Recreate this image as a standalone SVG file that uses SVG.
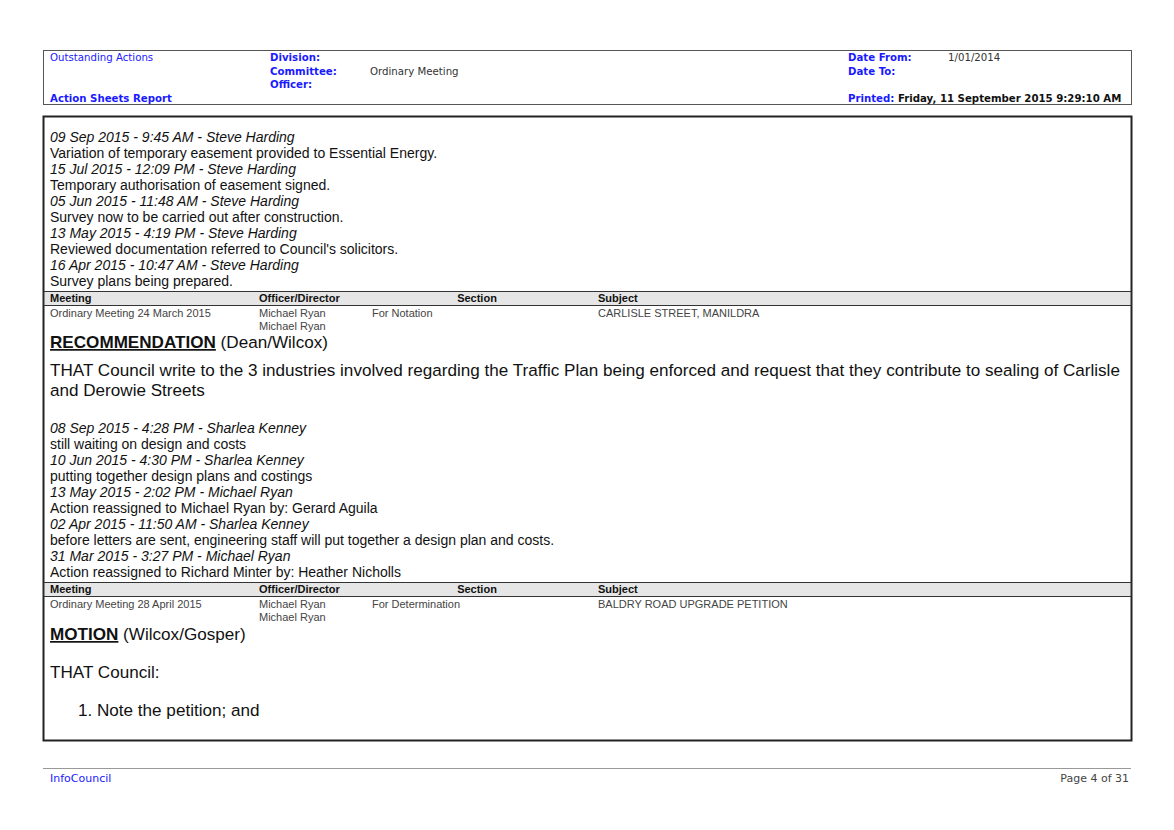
<svg xmlns="http://www.w3.org/2000/svg" width="1174" height="830" viewBox="0 0 1174 830">
<style>
.h{font-family:"DejaVu Sans",Verdana,sans-serif;font-size:10.2px;fill:#1a1aff}
.hb{font-family:"DejaVu Sans",Verdana,sans-serif;font-size:10.2px;font-weight:bold;fill:#1a1aff}
.hk{font-family:"DejaVu Sans",Verdana,sans-serif;font-size:10.2px;fill:#333}
.hkb{font-family:"DejaVu Sans",Verdana,sans-serif;font-size:10.2px;font-weight:bold;fill:#111}
.t{font-family:"Liberation Sans",Arial,sans-serif;font-size:14px;fill:#111}
.i{font-family:"Liberation Sans",Arial,sans-serif;font-size:14px;font-style:italic;fill:#111}
.th{font-family:"Liberation Sans",Arial,sans-serif;font-size:11px;font-weight:bold;fill:#111}
.td{font-family:"Liberation Sans",Arial,sans-serif;font-size:11px;fill:#444}
.big{font-family:"Liberation Sans",Arial,sans-serif;font-size:17.1px;fill:#111}
.bb{font-family:"Liberation Sans",Arial,sans-serif;font-size:17.1px;font-weight:bold;text-decoration:underline;fill:#111}
.f{font-family:"DejaVu Sans",Verdana,sans-serif;font-size:11px}
</style>
<rect width="1174" height="830" fill="#fff"/>
<rect x="43.5" y="50.5" width="1088" height="54" fill="none" stroke="#555" stroke-width="1"/>
<text class="h" x="50" y="61">Outstanding Actions</text>
<text class="hb" x="270" y="61">Division:</text>
<text class="hb" x="270" y="75">Committee<tspan class="h">:</tspan></text>
<text class="hk" x="370" y="75">Ordinary Meeting</text>
<text class="hb" x="270" y="88">Officer:</text>
<text class="hb" x="50" y="102">Action Sheets Report</text>
<text class="hb" x="848" y="61">Date From:</text>
<text class="hk" x="948" y="61">1/01/2014</text>
<text class="hb" x="848" y="75">Date To:</text>
<text class="hb" x="848" y="102">Printed: <tspan class="hkb">Friday, 11 September 2015  9:29:10 AM</tspan></text>
<rect x="43.5" y="116.5" width="1088" height="624" fill="none" stroke="#222" stroke-width="2"/>
<text class="i" x="50" y="142">09 Sep 2015 - 9:45 AM - Steve Harding</text>
<text class="t" x="50" y="158">Variation of temporary easement provided to Essential Energy.</text>
<text class="i" x="50" y="174">15 Jul 2015 - 12:09 PM - Steve Harding</text>
<text class="t" x="50" y="190">Temporary authorisation of easement signed.</text>
<text class="i" x="50" y="206">05 Jun 2015 - 11:48 AM - Steve Harding</text>
<text class="t" x="50" y="222">Survey now to be carried out after construction.</text>
<text class="i" x="50" y="238">13 May 2015 - 4:19 PM - Steve Harding</text>
<text class="t" x="50" y="254">Reviewed documentation referred to Council's solicitors.</text>
<text class="i" x="50" y="270">16 Apr 2015 - 10:47 AM - Steve Harding</text>
<text class="t" x="50" y="286">Survey plans being prepared.</text>
<g id="table1">
<rect x="44" y="291.5" width="1087" height="14" fill="#e6e6e6" stroke="#333" stroke-width="1"/>
<text class="th" x="50" y="302">Meeting</text>
<text class="th" x="259" y="302">Officer/Director</text>
<text class="th" x="477" y="302" text-anchor="middle">Section</text>
<text class="th" x="598" y="302">Subject</text>
<text class="td" x="50" y="317">Ordinary Meeting 24 March 2015</text>
<text class="td" x="259" y="317">Michael Ryan</text>
<text class="td" x="259" y="330">Michael Ryan</text>
<text class="td" x="372" y="317">For Notation</text>
<text class="td" x="598" y="317">CARLISLE STREET, MANILDRA</text>
</g>
<text x="50" y="348"><tspan class="bb">RECOMMENDATION</tspan><tspan class="big"> (Dean/Wilcox)</tspan></text>
<text class="big" x="50" y="376">THAT Council write to the 3 industries involved regarding the Traffic Plan being enforced and request that they contribute to sealing of Carlisle</text>
<text class="big" x="50" y="396">and Derowie Streets</text>
<text class="i" x="50" y="433">08 Sep 2015 - 4:28 PM - Sharlea Kenney</text>
<text class="t" x="50" y="449">still waiting on design and costs</text>
<text class="i" x="50" y="465">10 Jun 2015 - 4:30 PM - Sharlea Kenney</text>
<text class="t" x="50" y="481">putting together design plans and costings</text>
<text class="i" x="50" y="497">13 May 2015 - 2:02 PM - Michael Ryan</text>
<text class="t" x="50" y="513">Action reassigned to Michael Ryan by: Gerard Aguila</text>
<text class="i" x="50" y="529">02 Apr 2015 - 11:50 AM - Sharlea Kenney</text>
<text class="t" x="50" y="545">before letters are sent, engineering staff will put together a design plan and costs.</text>
<text class="i" x="50" y="561">31 Mar 2015 - 3:27 PM - Michael Ryan</text>
<text class="t" x="50" y="577">Action reassigned to Richard Minter by: Heather Nicholls</text>
<g id="table2">
<rect x="44" y="582.5" width="1087" height="14" fill="#e6e6e6" stroke="#333" stroke-width="1"/>
<text class="th" x="50" y="593">Meeting</text>
<text class="th" x="259" y="593">Officer/Director</text>
<text class="th" x="477" y="593" text-anchor="middle">Section</text>
<text class="th" x="598" y="593">Subject</text>
<text class="td" x="50" y="608">Ordinary Meeting 28 April 2015</text>
<text class="td" x="259" y="608">Michael Ryan</text>
<text class="td" x="259" y="621">Michael Ryan</text>
<text class="td" x="372" y="608">For Determination</text>
<text class="td" x="598" y="608">BALDRY ROAD UPGRADE PETITION</text>
</g>
<text x="50" y="640"><tspan class="bb">MOTION</tspan><tspan class="big"> (Wilcox/Gosper)</tspan></text>
<text class="big" x="50" y="678">THAT Council:</text>
<text class="big" x="78" y="716">1.  Note the petition; and</text>
<line x1="43" y1="768.5" x2="1131" y2="768.5" stroke="#999" stroke-width="1"/>
<text class="f" x="50" y="782" fill="#1a1aff">InfoCouncil</text>
<text class="f" x="1129" y="782" fill="#444" text-anchor="end">Page 4 of 31</text>
</svg>
